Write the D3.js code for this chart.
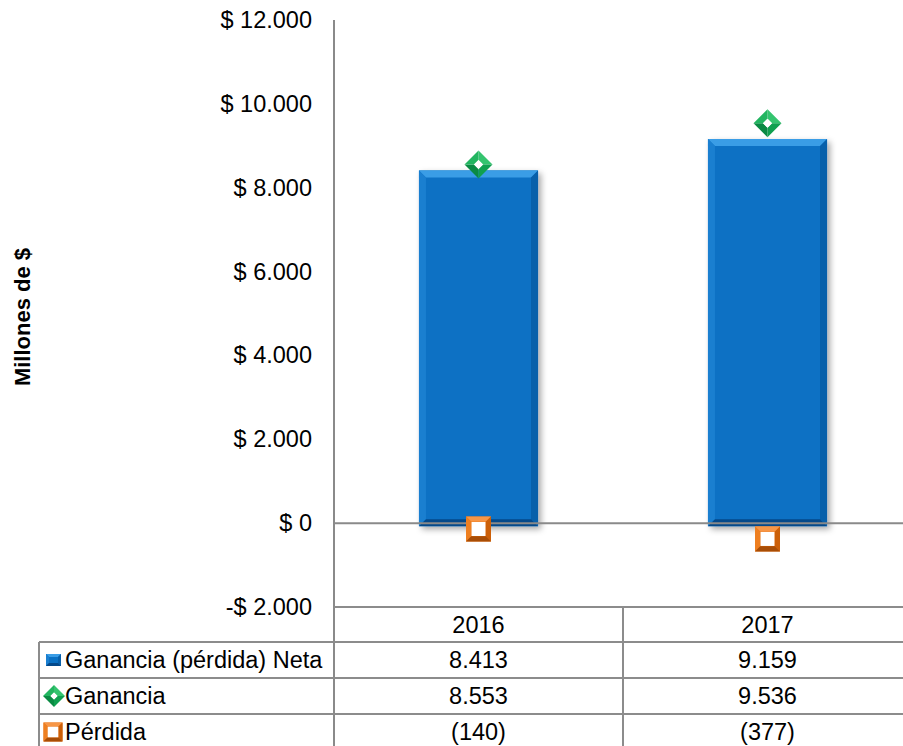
<!DOCTYPE html>
<html>
<head>
<meta charset="utf-8">
<script src="https://cdn.jsdelivr.net/npm/d3@7"></script>
<style>
	body { margin: 0; background: #fff; }
	svg text { font-family: "Liberation Sans", Arial, sans-serif; fill: #000; }
</style>
</head>
<body>
<svg id="chart" width="903" height="746"></svg>
<script>
// chart values
var categories = ["2016", "2017"];
var netaValues = [8413, 9159];
var gananciaValues = [8553, 9536];
var perdidaValues = [-140, -377];
var seriesNames = ["Ganancia (pérdida) Neta", "Ganancia", "Pérdida"];
var yTicks = [-2000, 0, 2000, 4000, 6000, 8000, 10000, 12000];

var locale = d3.formatLocale({ decimal: ",", thousands: ".", grouping: [3], currency: ["$", ""] });
var fmt = locale.format(",.0f");
function tickLabel(v) {
	return (v < 0 ? "-$ " : "$ ") + fmt(Math.abs(v));
}
function cellLabel(v) {
	return v < 0 ? "(" + fmt(-v) + ")" : fmt(v);
}

var FS = 23.5;
var svg = d3.select("#chart");
var defs = svg.append("defs");
var shadow = defs.append("filter").attr("id", "shadow")
	.attr("x", "-20%").attr("y", "-20%").attr("width", "150%").attr("height", "150%");
shadow.append("feDropShadow").attr("dx", 3).attr("dy", 3)
	.attr("stdDeviation", 3).attr("flood-color", "#000").attr("flood-opacity", 0.35);

var y = d3.scaleLinear().domain([-2000, 12000]).range([607, 20]);
var x = d3.scaleBand().domain(categories).range([334, 912])
	.paddingInner(0.588).paddingOuter(0.294);

// y axis labels
var axis = d3.axisLeft(y).tickValues(yTicks).tickSize(0).tickPadding(22).tickFormat(tickLabel);
var ag = svg.append("g").attr("transform", "translate(334,0)").call(axis);
ag.select(".domain").remove();
ag.selectAll("text").attr("font-size", FS).attr("fill", "#000")
	.style("font-family", "'Liberation Sans', Arial, sans-serif");

svg.append("text")
	.attr("transform", "translate(30,317) rotate(-90)")
	.attr("text-anchor", "middle")
	.attr("font-size", 22).attr("font-weight", "bold")
	.text("Millones de $");

// bevelled bar
function bevelRect(g, x0, y0, w, h, b, c) {
	g.append("rect").attr("x", x0).attr("y", y0).attr("width", w).attr("height", h)
		.attr("fill", c.mid).attr("filter", c.filter || null);
	var x1 = x0 + w, y1 = y0 + h;
	var polys = [
		[[x0, y0], [x1, y0], [x1 - b, y0 + b], [x0 + b, y0 + b], c.top],
		[[x0, y0], [x0 + b, y0 + b], [x0 + b, y1 - b], [x0, y1], c.left],
		[[x1, y0], [x1, y1], [x1 - b, y1 - b], [x1 - b, y0 + b], c.right],
		[[x0, y1], [x0 + b, y1 - b], [x1 - b, y1 - b], [x1, y1], c.bottom]
	];
	polys.forEach(function(p) {
		g.append("polygon").attr("points", p.slice(0, 4).map(function(q) { return q.join(","); }).join(" "))
			.attr("fill", p[4]);
	});
}

var blue = { mid: "#0a71c4", top: "#3a9de6", left: "#1a7fd0", right: "#0860aa", bottom: "#04498a" };

// bars
var bars = svg.append("g");
categories.forEach(function(cat, i) {
	var top = y(netaValues[i]);
	var bottom = y(0) + 3;
	bevelRect(bars, x(cat), top, x.bandwidth(), bottom - top, 7,
		Object.assign({ filter: "url(#shadow)" }, blue));
});

// zero line
svg.append("line").attr("x1", 334).attr("x2", 912).attr("y1", y(0)).attr("y2", y(0))
	.attr("stroke", "#8a8a8a").attr("stroke-width", 2);

// axis line
svg.append("line").attr("x1", 334).attr("x2", 334).attr("y1", y(12000)).attr("y2", 746)
	.attr("stroke", "#8a8a8a").attr("stroke-width", 2);

// markers
function diamond(g, cx, cy, r) {
	var pts = function(s) { return [[cx, cy - s], [cx + s, cy], [cx, cy + s], [cx - s, cy]]; };
	var o = pts(r), inner = pts(r * 0.32);
	var facets = [
		[o[0], o[1], inner[1], inner[0], "#34c46f"],
		[o[1], o[2], inner[2], inner[1], "#10a050"],
		[o[2], o[3], inner[3], inner[2], "#0a8a43"],
		[o[3], o[0], inner[0], inner[3], "#22b560"]
	];
	facets.forEach(function(f) {
		g.append("polygon").attr("points", f.slice(0, 4).map(function(q) { return q.join(","); }).join(" "))
			.attr("fill", f[4]);
	});
	g.append("polygon").attr("points", inner.map(function(q) { return q.join(","); }).join(" "))
		.attr("fill", "#fff");
}
function square(g, cx, cy, r) {
	bevelRect(g, cx - r, cy - r, 2 * r, 2 * r, r * 0.42,
		{ mid: "#e46c0a", top: "#f79646", left: "#ee7f20", right: "#cc5f08", bottom: "#a84d06" });
	g.append("rect").attr("x", cx - r * 0.56).attr("y", cy - r * 0.56)
		.attr("width", r * 1.12).attr("height", r * 1.12).attr("fill", "#fff");
}

var marks = svg.append("g");
categories.forEach(function(cat, i) {
	var cx = x(cat) + x.bandwidth() / 2;
	diamond(marks, cx, y(gananciaValues[i]), 14);
	square(marks, cx, y(perdidaValues[i]), 12.5);
});

// data table
var rowY = [607, 642, 678, 714, 750];
var colX = [334, x.step() + 334, 2 * x.step() + 334];
var tg = svg.append("g");
var lineC = "#8c8c8c";
tg.append("line").attr("x1", 334).attr("x2", 912).attr("y1", rowY[0]).attr("y2", rowY[0])
	.attr("stroke", lineC).attr("stroke-width", 2);
for (var r = 1; r < rowY.length; r++) {
	tg.append("line").attr("x1", 39).attr("x2", 912).attr("y1", rowY[r]).attr("y2", rowY[r])
		.attr("stroke", lineC).attr("stroke-width", 2);
}
tg.append("line").attr("x1", 39).attr("x2", 39).attr("y1", rowY[1]).attr("y2", 750)
	.attr("stroke", lineC).attr("stroke-width", 2);
colX.slice(1).forEach(function(cx) {
	tg.append("line").attr("x1", cx).attr("x2", cx).attr("y1", rowY[0]).attr("y2", 750)
		.attr("stroke", lineC).attr("stroke-width", 2);
});

var rows = [categories, netaValues.map(cellLabel), gananciaValues.map(cellLabel), perdidaValues.map(cellLabel)];
rows.forEach(function(row, ri) {
	var cy = (rowY[ri] + rowY[ri + 1]) / 2;
	row.forEach(function(v, ci) {
		tg.append("text").attr("x", x(categories[ci]) + x.bandwidth() / 2).attr("y", cy)
			.attr("dy", "0.36em").attr("text-anchor", "middle").attr("font-size", FS).text(v);
	});
});

// legend keys in the table
seriesNames.forEach(function(name, i) {
	var cy = (rowY[i + 1] + rowY[i + 2]) / 2;
	tg.append("text").attr("x", 65).attr("y", cy).attr("dy", "0.36em")
		.attr("font-size", FS).text(name);
});
var k0 = (rowY[1] + rowY[2]) / 2, k1 = (rowY[2] + rowY[3]) / 2, k2 = (rowY[3] + rowY[4]) / 2;
bevelRect(tg, 46, k0 - 6, 15, 12, 3, blue);
diamond(tg, 54, k1, 11);
square(tg, 53, k2, 9.5);
</script>
</body>
</html>
